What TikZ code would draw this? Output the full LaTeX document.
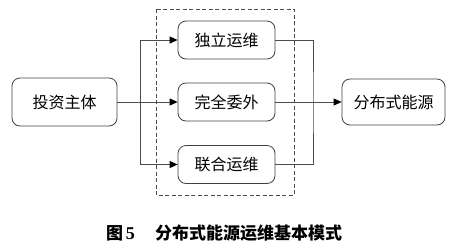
\documentclass[tikz,border=0pt]{standalone}
\usepackage{fontspec}
\setmainfont{Noto Sans CJK SC}
\usetikzlibrary{arrows.meta}
\begin{document}
\begin{tikzpicture}[x=1pt,y=-1pt,
  box/.style={draw=black!75, line width=0.8pt, rounded corners=8pt, font=\fontsize{16}{18}\selectfont, inner sep=0pt},
  conn/.style={draw=black!70, line width=0.8pt},
  arr/.style={conn, -{Triangle[length=8pt,width=7pt,fill=black,color=black]}}]
\useasboundingbox (0,0) rectangle (465,247);
\draw[black!70, line width=0.7pt, dash pattern=on 4pt off 2.5pt] (156,9) rectangle (294,195);
\node[box, minimum width=105pt, minimum height=48pt] (inv) at (64.5,102) {投资主体};
\node[box, minimum width=97pt, minimum height=38pt] (a) at (226.5,40) {独立运维};
\node[box, minimum width=97pt, minimum height=38pt] (b) at (226.5,102) {完全委外};
\node[box, minimum width=97pt, minimum height=38pt] (c) at (226.5,164.5) {联合运维};
\node[box, minimum width=103pt, minimum height=46pt] (d) at (393.5,102) {分布式能源};
\coordinate (jl) at (140,102);
\coordinate (jr) at (313,102);
\draw[arr] (inv.east) -- (b.west);
\draw[arr] (jl) |- (a.west);
\draw[arr] (jl) |- (c.west);
\draw[conn] (a.east) -| (jr) |- (c.east);
\draw[arr] (b.east) -- (d.west);
\node[font=\fontsize{17}{20}\selectfont\bfseries, anchor=west, inner sep=0pt] (cap) at (106,233) {图\hspace{0.15em}{\fontspec{Liberation Serif}\fontsize{18}{20}\selectfont 5}\hspace{1.2em}分布式能源运维基本模式};
\end{tikzpicture}
\end{document}
